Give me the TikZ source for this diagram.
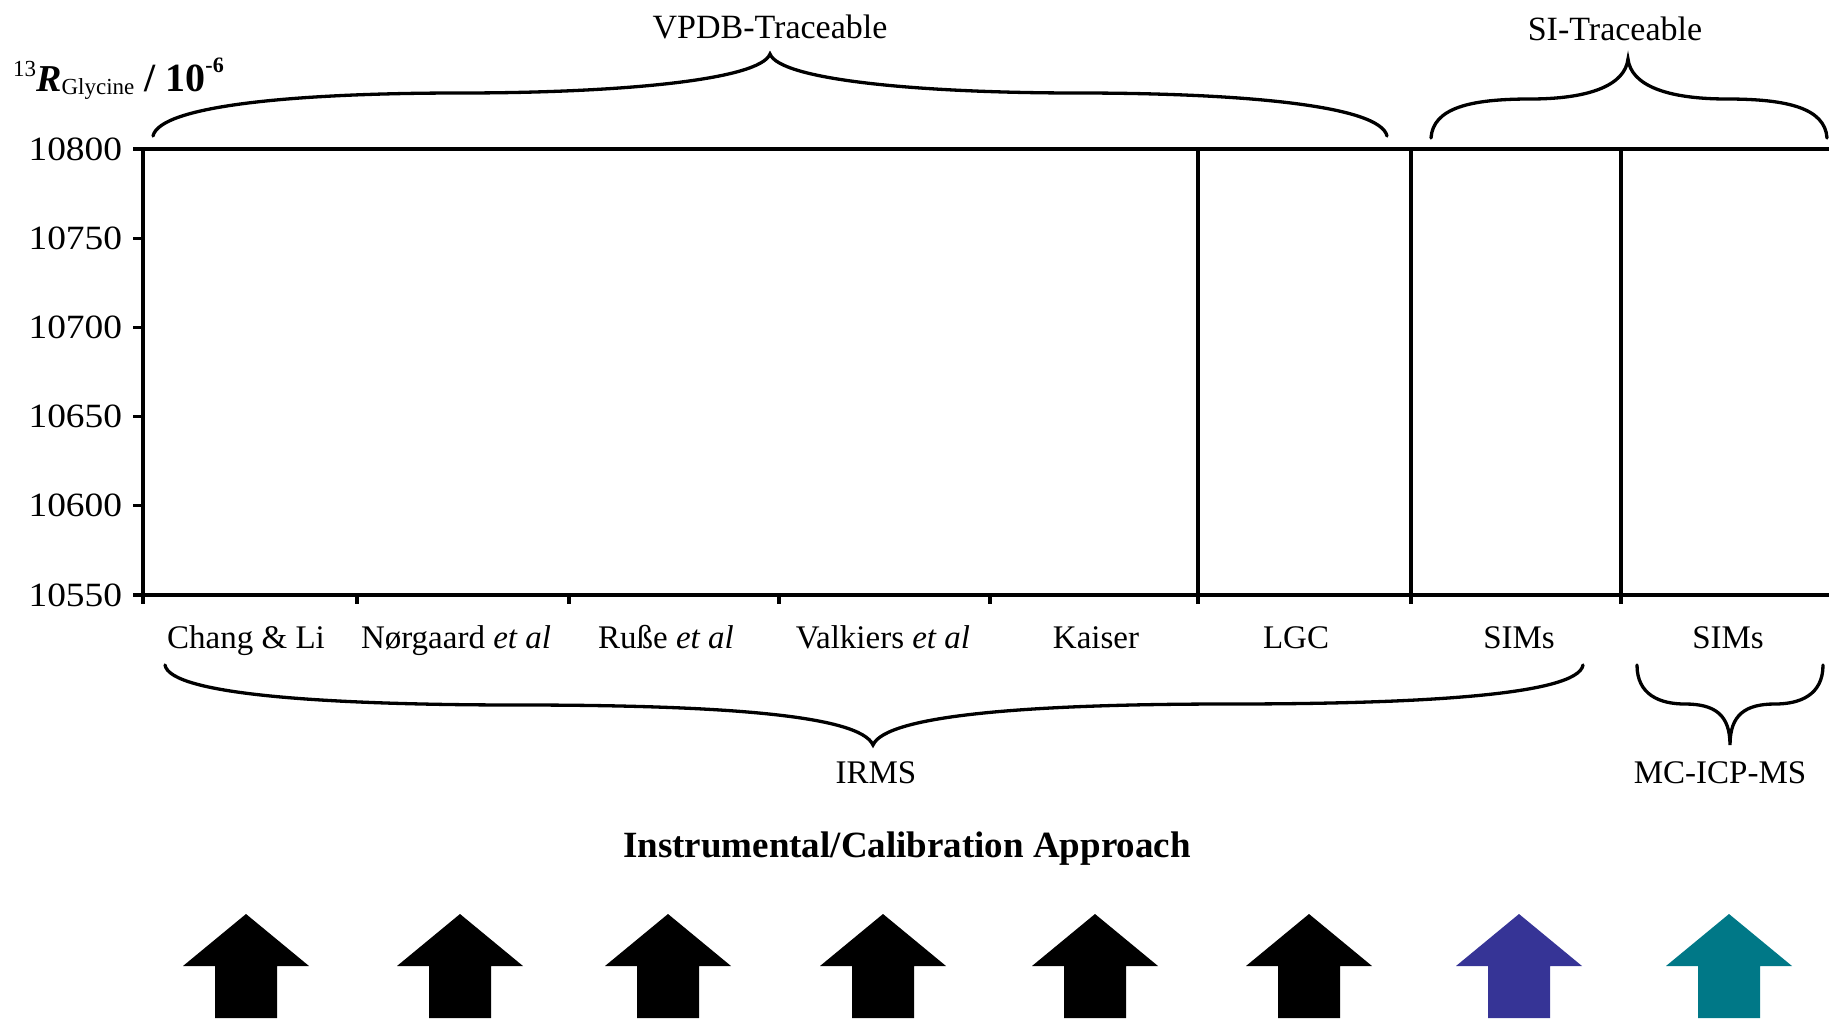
\documentclass[tikz,border=0pt]{standalone}
\usepackage{fontspec}
\setmainfont{Liberation Serif}
\newfontfamily\widefont{Liberation Serif}[FakeStretch=1.1]
\usepackage{xcolor}
\usepackage{tikz}

\definecolor{simsblue}{RGB}{54,52,150}
\definecolor{icpteal}{RGB}{0,120,135}

\tikzset{
  axisline/.style={line width=3.3pt},
  bracecurve/.style={line width=3.3pt, line cap=round},
  catlabel/.style={anchor=base, inner sep=0.75pt, font=\fontsize{33}{40}\selectfont},
  toplabel/.style={anchor=base, inner sep=0.75pt, font=\fontsize{34}{40}\selectfont},
  ticklabel/.style={anchor=east, inner sep=0.75pt, font=\widefont\fontsize{34}{40}\selectfont},
}

\begin{document}
\begin{tikzpicture}[x=1pt,y=1pt,yscale=-1,xscale=1]
\useasboundingbox (0,0) rectangle (1829,1018);

%Axis frame
\draw [axisline] (143,149) -- (1829,149) ;
\draw [axisline] (143,149) -- (143,604) ;
\draw [axisline] (133,595) -- (1829,595) ;
%Dividers
\foreach \x in {1198,1411,1621}
  \draw [axisline] (\x,149) -- (\x,604) ;
%Category ticks
\foreach \x in {357,569,779,990}
  \draw [axisline] (\x,595) -- (\x,604) ;
%Value ticks
\foreach \v [count=\i from 0] in {10800,10750,10700,10650,10600,10550} {
  \draw [axisline] (133,149+\i*89.2) -- (143,149+\i*89.2) ;
  \node [ticklabel] (tick\i) at (123,149+\i*89.2) {\v};
}

% Text Node
\draw (13,91) node (ytitle) [anchor=base west][inner sep=0pt] {\fontsize{23}{23}\selectfont\raisebox{15pt}{13}\fontsize{38}{44}\selectfont\textbf{\textit{R}}\fontsize{23}{23}\selectfont\raisebox{-3pt}{Glycine}\fontsize{40}{44}\selectfont\textbf{ / 10}\fontsize{22}{22}\selectfont\raisebox{19pt}{\textbf{-6}}};

%Curve Lines: VPDB brace
\draw [bracecurve] (153,136) .. controls (160,105) and (300,93) .. (460,93) .. controls (620,93) and (760,80) .. (770,54) .. controls (780,80) and (920,93) .. (1078,93) .. controls (1238,93) and (1380,105) .. (1387,136) ;
%Curve Lines: SI brace
\draw [bracecurve] (1431,138) .. controls (1433,108) and (1470,99) .. (1530,99) .. controls (1590,99) and (1625,85) .. (1628,59) .. controls (1631,85) and (1666,99) .. (1727,99) .. controls (1787,99) and (1825,108) .. (1827,138) ;
%Curve Lines: IRMS brace
\draw [bracecurve] (165,665) .. controls (170,695) and (330,705) .. (519,705) .. controls (720,705) and (860,715) .. (873,745) .. controls (886,715) and (1030,704) .. (1229,704) .. controls (1420,704) and (1578,695) .. (1583,665) ;
%Curve Lines: MC-ICP-MS brace
\draw [bracecurve] (1637,665) .. controls (1637,695) and (1660,704) .. (1685,704) .. controls (1715,704) and (1730,715) .. (1730,745) .. controls (1730,715) and (1745,704) .. (1775,704) .. controls (1800,704) and (1823,695) .. (1823,665) ;

% Text Node
\draw (770,38) node (vpdb) [toplabel] {VPDB-Traceable};
% Text Node
\draw (1615,40) node (si) [toplabel] {SI-Traceable};

% Text Node
\draw (246,648) node (chang) [catlabel] {Chang \& Li};
\draw (456,648) node (norgaard) [catlabel] {Nørgaard \textit{et al}};
\draw (666,648) node (russe) [catlabel] {Ruße \textit{et al}};
\draw (883,648) node (valkiers) [catlabel] {Valkiers \textit{et al}};
\draw (1096,648) node (kaiser) [catlabel] {Kaiser};
\draw (1296,648) node (lgc) [catlabel] {LGC};
\draw (1519,648) node (simsa) [catlabel] {SIMs};
\draw (1728,648) node (simsb) [catlabel] {SIMs};

% Text Node
\draw (876,783) node (irms) [catlabel] {IRMS};
\draw (1720,783) node (mcicp) [catlabel] {MC-ICP-MS};

% Text Node
\draw (907,857) node (approach) [anchor=base][inner sep=0.75pt] [font=\fontsize{37}{40}\selectfont\bfseries] {Instrumental/Calibration Approach};

%Shape: Block arrows
\foreach \x/\c in {246/black,460/black,668/black,883/black,1095/black,1309/black,1519/simsblue,1729/icpteal}
  \fill [\c] (\x-31,1018) -- (\x-31,966) -- (\x-63,966) -- (\x,914) -- (\x+63,966) -- (\x+31,966) -- (\x+31,1018) -- cycle ;

\end{tikzpicture}
\end{document}
